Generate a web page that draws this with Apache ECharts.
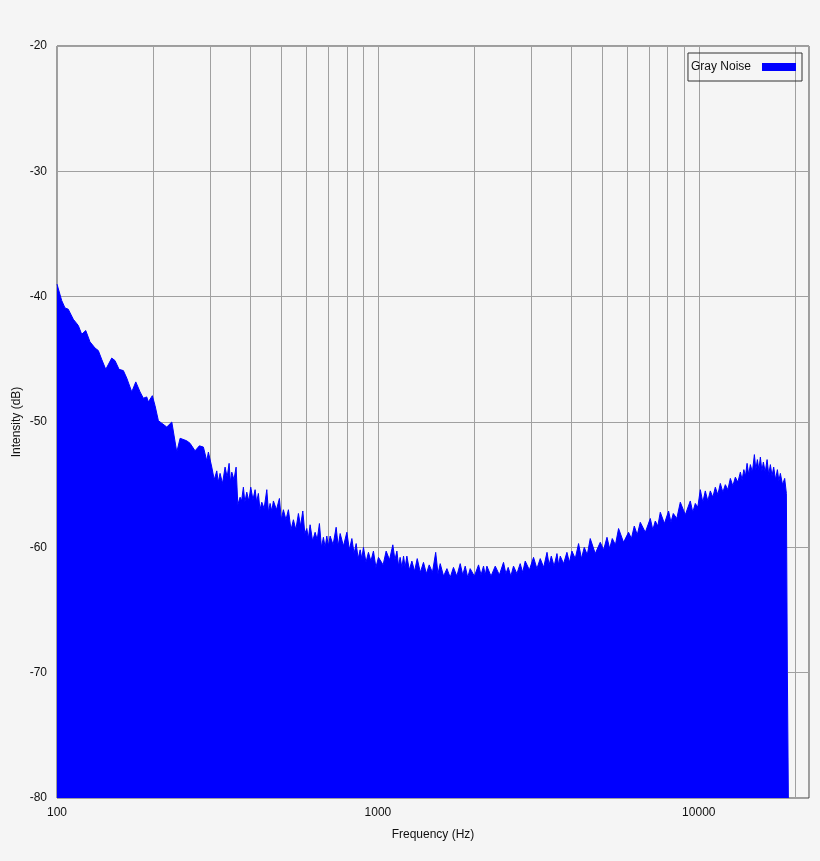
<!DOCTYPE html>
<html>
<head>
<meta charset="utf-8">
<title>Gray Noise</title>
<script src="https://cdn.jsdelivr.net/npm/echarts@6/dist/echarts.min.js"></script>
<style>
  html, body { margin: 0; padding: 0; background: #f5f5f5; }
  #chart { width: 820px; height: 861px; }
</style>
</head>
<body>
<div id="chart"></div>
<script>
// spectrum envelope: frequency (Hz) and level (dB), peaks
const freqs = [
  100, 103.4, 105.9, 108.4, 112.4, 116.5, 119.4, 122.9, 126.7, 131.4,
  134.5, 137.8, 141.9, 148.1, 151.6, 156.1, 161.0, 165.0, 171.0, 176.0,
  181.5, 185.8, 190.4, 192.6, 198.2, 202.1, 207.0, 212.1, 219.8, 227.9,
  236.2, 241.9, 253.7, 259.8, 269.3, 277.8, 285.9, 292.9, 296.3, 303.6,
  314.7, 322.2, 334.0, 343.8, 350.5, 361.5, 372.0, 380.9, 390.3, 401.6,
  414.3, 424.2, 434.7, 450.6, 461.4, 472.5, 493.3, 507.6, 526.2, 545.4,
  565.3, 583.4, 600.4, 614.8, 637.3, 657.3, 676.4, 693.1, 709.8, 741.1,
  762.8, 800.3, 829.6, 855.6, 880.5, 901.6, 934.4, 968.5, 1004, 1016,
  1061, 1113, 1146, 1173, 1202, 1231, 1276, 1326, 1387, 1445,
  1514, 1564, 1641, 1720, 1805, 1871, 1939, 2059, 2134, 2186,
  2321, 2463, 2547, 2646, 2776, 2878, 3055, 3206, 3365, 3470,
  3614, 3701, 3882, 4024, 4220, 4396, 4589, 4931, 5175, 5375,
  5623, 6041, 6294, 6571, 7061, 7319, 7586, 8051, 8327, 8757,
  9408, 9752, 10108, 10478, 10862, 11259, 11671, 12098, 12541, 12999,
  13475, 13817, 14139, 14478, 14900, 15223, 15556, 15893, 16322, 16713,
  17113, 17575, 17955, 18519, 18746, 18880, 19015
];
const levels = [
  -39.0, -40.3, -40.9, -41.0, -41.8, -42.3, -43.0, -42.7, -43.6, -44.1,
  -44.3, -45.0, -45.8, -44.9, -45.1, -45.8, -45.9, -46.5, -47.6, -46.8,
  -47.6, -48.1, -48.0, -48.4, -47.9, -48.7, -49.9, -50.1, -50.4, -50.0,
  -52.4, -51.3, -51.5, -51.7, -52.3, -51.9, -52.0, -53.1, -52.4, -53.6,
  -53.9, -54.1, -53.6, -53.3, -54.0, -53.6, -56.0, -55.2, -55.6, -55.2,
  -55.4, -55.7, -56.4, -55.4, -56.5, -56.3, -56.1, -57.0, -57.0, -57.8,
  -57.3, -57.1, -58.5, -58.2, -58.8, -58.1, -59.2, -59.1, -59.1, -58.4,
  -58.9, -58.8, -59.3, -59.7, -60.2, -60.0, -60.4, -60.3, -60.8, -60.8,
  -60.3, -59.8, -60.3, -60.8, -60.7, -60.7, -61.1, -60.9, -61.2, -61.4,
  -60.4, -61.3, -61.7, -61.6, -61.3, -61.5, -61.7, -61.4, -61.5, -61.5,
  -61.5, -61.2, -61.6, -61.5, -61.3, -61.1, -60.8, -60.9, -60.4, -60.7,
  -60.5, -60.7, -60.4, -60.3, -59.7, -60.0, -59.3, -59.6, -59.2, -59.3,
  -58.5, -58.8, -58.3, -58.0, -57.7, -57.9, -57.2, -57.1, -57.3, -56.4,
  -56.3, -56.5, -55.4, -55.5, -55.5, -55.2, -54.9, -55.0, -54.5, -54.4,
  -54.0, -53.8, -53.3, -53.4, -52.6, -53.0, -52.8, -53.2, -53.0, -53.4,
  -53.6, -53.8, -54.1, -54.5, -55.7, -70.0, -80.0
];
// dips between the spikes
const dipFreqs = [
  309, 318, 328, 339, 347, 356, 366, 376, 385, 396,
  408, 419, 429, 442, 456, 467, 483, 500, 517, 536,
  555, 574, 592, 607, 626, 647, 667, 685, 701, 725,
  752, 781, 815, 843, 868, 891, 918, 951, 986, 1038,
  1087, 1130, 1160, 1188, 1216, 1253, 1301, 1356, 1416, 1479,
  1539, 1602, 1680, 1762, 1838, 1905, 1998, 2096, 2160, 2252,
  2391, 2505, 2596, 2711, 2826, 2965, 3130, 3285, 3417, 3541,
  3657, 3790, 3952, 4121, 4308, 4492, 4757, 5051, 5274, 5498,
  5828, 6166, 6430, 6812, 7189, 7452, 7815, 8188, 8540, 9077,
  9578, 9928, 10291, 10668, 11059, 11463, 11883, 12318, 12768, 13235,
  13645, 13977, 14307, 14688, 15061, 15389, 15724, 16106, 16516, 16912,
  17343, 17764, 18235
];
const dipLevels = [
  -54.6, -54.8, -54.9, -54.4, -54.8, -54.6, -56.6, -56.3, -56.4, -56.3,
  -56.2, -56.4, -57.0, -56.9, -57.2, -57.1, -57.0, -57.8, -57.8, -58.6,
  -58.6, -58.3, -58.9, -59.3, -59.5, -59.4, -60.0, -60.0, -59.9, -59.8,
  -59.9, -59.9, -60.2, -60.5, -60.9, -60.9, -61.2, -61.1, -61.6, -61.4,
  -61.0, -61.0, -61.5, -61.6, -61.6, -61.8, -61.9, -62.0, -62.1, -62.0,
  -62.1, -62.3, -62.4, -62.3, -62.2, -62.4, -62.3, -62.2, -62.2, -62.3,
  -62.2, -62.1, -62.3, -62.1, -62.0, -61.8, -61.7, -61.6, -61.4, -61.5,
  -61.4, -61.3, -61.2, -60.9, -60.9, -60.6, -60.5, -60.2, -60.1, -59.8,
  -59.6, -59.3, -59.0, -58.8, -58.6, -58.3, -58.1, -58.0, -57.7, -57.4,
  -57.2, -56.8, -56.4, -56.3, -56.0, -55.8, -55.6, -55.4, -55.1, -54.8,
  -54.6, -54.3, -54.2, -54.0, -53.8, -53.8, -53.9, -54.0, -54.2, -54.3,
  -54.6, -54.7, -55.0
];
// minor grid lines of the log axis
const minorFreqs = [200, 300, 400, 500, 600, 700, 800, 900,
  2000, 3000, 4000, 5000, 6000, 7000, 8000, 9000, 20000];
const seriesName = 'Gray Noise';

const points = freqs.map((f, i) => [f, levels[i]])
  .concat(dipFreqs.map((f, i) => [f, dipLevels[i]]))
  .sort((a, b) => a[0] - b[0]);

const chart = echarts.init(document.getElementById('chart'));
const font = 'Liberation Sans, Arial, sans-serif';

chart.setOption({
  animation: false,
  backgroundColor: '#f5f5f5',
  textStyle: { fontFamily: font },
  grid: {
    left: 57, right: 11, top: 46, bottom: 63,
    outerBoundsMode: 'none',
    containLabel: false,
    show: true, borderColor: '#444', borderWidth: 1,
    backgroundColor: '#f5f5f5'
  },
  legend: {
    data: [seriesName],
    right: 18, top: 53,
    align: 'right',
    icon: 'rect',
    itemWidth: 34, itemHeight: 8,
    padding: [8, 6, 8, 3],
    borderColor: '#333', borderWidth: 1,
    textStyle: { fontFamily: font, fontSize: 12, color: '#111', padding: [0, 6, 0, 0] },
    itemStyle: { color: '#0000ff' }
  },
  xAxis: {
    type: 'log', logBase: 10,
    min: 100, max: 22050,
    name: 'Frequency (Hz)', nameLocation: 'middle', nameGap: 31,
    nameTextStyle: { fontFamily: font, fontSize: 12, color: '#111' },
    axisLine: { show: false },
    axisTick: { show: false },
    axisLabel: {
      fontFamily: font, fontSize: 12, color: '#111', margin: 9,
      showMaxLabel: false,
      formatter: v => String(Math.round(v))
    },
    splitLine: { show: true, lineStyle: { color: '#a0a0a0', width: 1 } }
  },
  yAxis: {
    type: 'value', min: -80, max: -20, interval: 10,
    name: 'Intensity (dB)', nameLocation: 'middle', nameGap: 34,
    nameMoveOverlap: false,
    nameTextStyle: { fontFamily: font, fontSize: 12, color: '#111' },
    axisLine: { show: false },
    axisTick: { show: false },
    axisLabel: { fontFamily: font, fontSize: 12, color: '#111', margin: 10 },
    splitLine: { show: true, lineStyle: { color: '#a0a0a0', width: 1 } }
  },
  series: [
    {
      name: 'grid',
      type: 'line',
      data: [],
      z: 1,
      silent: true,
      markLine: {
        z: 1,
        silent: true,
        symbol: ['none', 'none'],
        label: { show: false },
        lineStyle: { color: '#a0a0a0', width: 1, type: 'solid' },
        data: minorFreqs.map(f => ({ xAxis: f }))
      }
    },
    {
      name: seriesName,
      type: 'line',
      z: 3,
      symbol: 'none',
      clip: true,
      data: points,
      itemStyle: { color: '#0000ff' },
      lineStyle: { color: '#0000ff', width: 1 },
      areaStyle: { color: '#0000ff', opacity: 1, origin: 'start' }
    }
  ]
});
</script>
</body>
</html>
